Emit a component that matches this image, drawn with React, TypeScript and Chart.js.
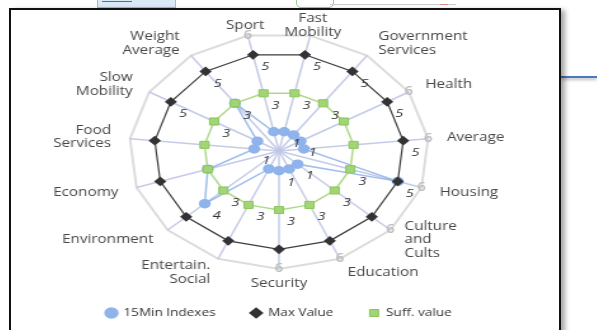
import React, { useEffect, useRef } from "react";
import { Chart, registerables } from "chart.js";

Chart.register(...registerables);

// Categories, clockwise starting at "Fast Mobility"
const categoryLabels: (string | string[])[] = [
  ["Fast", "Mobility"],
  ["Government", "Services"],
  "Health",
  "Average",
  "Housing",
  ["Culture", "and", "Cults"],
  "Education",
  "Security",
  ["Entertain.", "Social"],
  "Environment",
  "Economy",
  ["Food", "Services"],
  ["Slow", "Mobility"],
  ["Weight", "Average"],
  "Sport",
];

const indexValues = [1, 1, 1, 1, 5, 1, 1, 1, 1, 4, 3, 1, 1, 3, 1];
const maxValues = [5, 5, 5, 5, 5, 5, 5, 5, 5, 5, 5, 5, 5, 5, 5];
const suffValues = [3, 3, 3, 3, 3, 3, 3, 3, 3, 3, 3, 3, 3, 3, 3];
const scaleMax = 6;

// which value labels are visible in the picture (category indices)
const shownIndexLabels = [0, 2, 5, 7, 9, 11];
const shownMaxLabels = [0, 1, 2, 3, 4, 12, 13, 14];
const shownSuffLabels = [0, 1, 4, 5, 6, 7, 8, 9, 12, 13, 14];
const shownRingLabels = [2, 3, 4, 5, 6, 7, 14];

const FONT = '"Open Sans", "Noto Sans", sans-serif';

const labelPlugin = {
  id: "customLabels",
  afterDatasetsDraw(chart: any) {
    const scale = chart.scales.r;
    const ctx = chart.ctx;
    ctx.save();
    ctx.textAlign = "center";
    ctx.textBaseline = "middle";
    // outer ring value
    ctx.font = `600 12px ${FONT}`;
    ctx.fillStyle = "#bdbdbd";
    shownRingLabels.forEach((i) => {
      const p = scale.getPointPositionForValue(i, scaleMax);
      ctx.fillText(String(scaleMax), p.x, p.y);
    });
    // data value labels
    ctx.font = `italic 11.5px ${FONT}`;
    ctx.fillStyle = "#333";
    const sets: [number, number[]][] = [
      [0, shownIndexLabels],
      [1, shownMaxLabels],
      [2, shownSuffLabels],
    ];
    sets.forEach(([di, shown]) => {
      const data = chart.data.datasets[di].data;
      shown.forEach((i) => {
        const p = scale.getPointPositionForValue(i, data[i]);
        ctx.fillText(String(data[i]), p.x + 9.5, p.y + 12);
      });
    });
    // category labels
    ctx.font = `12px ${FONT}`;
    ctx.fillStyle = "#474747";
    const labels = chart.data.labels;
    for (let i = 0; i < labels.length; i++) {
      const ang = scale.getIndexAngle(i);
      const s = Math.sin(ang);
      const c = Math.cos(ang);
      const centered = Math.abs(s) < 0.25;
      const gap = centered && c > 0 ? 10 : 15;
      const p = scale.getPointPosition(i, scale.drawingArea + gap);
      ctx.textAlign = centered ? "center" : s > 0 ? "left" : "right";
      const lines = Array.isArray(labels[i]) ? labels[i] : [labels[i]];
      const lh = 13.5;
      lines.forEach((ln: string, k: number) => {
        ctx.fillText(ln, p.x, p.y + (k - (lines.length - 1) / 2) * lh);
      });
    }
    ctx.restore();
  },
};

function RadarChart() {
  const ref = useRef<HTMLCanvasElement>(null);
  useEffect(() => {
    if (!ref.current) return;
    const chart = new Chart(ref.current, {
      type: "radar",
      data: {
        labels: categoryLabels as any,
        datasets: [
          {
            label: "15Min Indexes",
            data: indexValues,
            borderColor: "rgba(143,178,232,0.85)",
            borderWidth: 1.5,
            pointBackgroundColor: "#8fb3ea",
            pointBorderColor: "#8fb3ea",
            pointRadius: 4,
            pointStyle: "circle",
            fill: false,
            order: 2,
          } as any,
          {
            label: "Max Value",
            data: maxValues,
            borderColor: "#3d3d3d",
            borderWidth: 1.2,
            pointStyle: "rectRot",
            pointRadius: 4,
            pointBackgroundColor: "#333",
            pointBorderColor: "#333",
            fill: false,
            order: 1,
          },
          {
            label: "Suff. value",
            data: suffValues,
            borderColor: "#afd98a",
            borderWidth: 1.5,
            pointStyle: "rect",
            pointRadius: 5,
            pointBackgroundColor: "#a3d574",
            pointBorderColor: "#8ac65c",
            pointBorderWidth: 1,
            fill: false,
            order: 0,
          },
        ],
      },
      options: {
        responsive: false,
        animation: false,
        devicePixelRatio: 1,
        layout: { padding: { top: 33, bottom: 1.65, left: 0, right: 0 } },
        elements: { line: { tension: 0 } },
        scales: {
          r: {
            min: 0,
            max: scaleMax,
            startAngle: 12,
            ticks: { display: false, stepSize: 6 },
            grid: { color: "#dcdcdc", lineWidth: 2 },
            angleLines: { color: "rgba(190,198,228,0.9)", lineWidth: 1.5 },
            pointLabels: { display: false },
          },
        },
        plugins: {
          legend: {
            position: "bottom",
            title: { display: true, text: "", font: { size: 7.6 }, padding: 0 },
            labels: {
              usePointStyle: true,
              boxWidth: 8,
              boxHeight: 7,
              padding: 28,
              font: { family: FONT, size: 10.7 },
              color: "#333",
              sort: (a: any, b: any) => a.datasetIndex - b.datasetIndex,
            },
          },
          tooltip: { enabled: false },
        },
      } as any,
      plugins: [labelPlugin],
    });
    return () => chart.destroy();
  }, []);
  return (
    <canvas
      ref={ref}
      width={400}
      height={330}
      style={{ width: 400, height: 330, display: "block" }}
    />
  );
}

export default function App() {
  return (
    <div
      style={{
        position: "absolute",
        left: 0,
        top: 0,
        width: 597,
        height: 330,
        overflow: "hidden",
        background: "#fff",
      }}
    >
      {/* fragments of the surrounding page */}
      <div
        style={{
          position: "absolute",
          left: 97,
          top: -3,
          width: 77,
          height: 9,
          background: "#dbe9f7",
          border: "1px solid #9cbce0",
        }}
      >
        <div style={{ position: "absolute", left: 4, top: 3, width: 30, height: 1, background: "#5a6f90" }} />
      </div>
      <div
        style={{
          position: "absolute",
          left: 296,
          top: -6,
          width: 36,
          height: 12,
          border: "1px solid #9c9",
          borderRadius: 5,
        }}
      />
      <div
        style={{
          position: "absolute",
          left: 330,
          top: 4,
          width: 126,
          height: 3,
          borderBottom: "1px dotted #999",
          borderTop: "1px solid #ccc",
        }}
      />
      <div style={{ position: "absolute", left: 440, top: 0, width: 8, height: 4, borderBottom: "1px solid #d88" }} />
      <div
        style={{
          position: "absolute",
          left: 561,
          top: 76,
          width: 36,
          height: 2,
          background: "#4a78c0",
          boxShadow: "0 2px 3px rgba(0,0,0,0.3)",
        }}
      />
      {/* framed chart */}
      <div
        style={{
          position: "absolute",
          left: 9,
          top: 8,
          width: 548,
          height: 340,
          border: "2px solid #111",
          background: "#fff",
          boxShadow: "4px 2px 5px rgba(0,0,0,0.35)",
        }}
      />
      <div
        style={{
          position: "absolute",
          left: 25,
          top: 0,
          width: 400,
          height: 330,
          transform: "scaleX(1.27)",
          transformOrigin: "0 0",
        }}
      >
        <RadarChart />
      </div>
    </div>
  );
}
